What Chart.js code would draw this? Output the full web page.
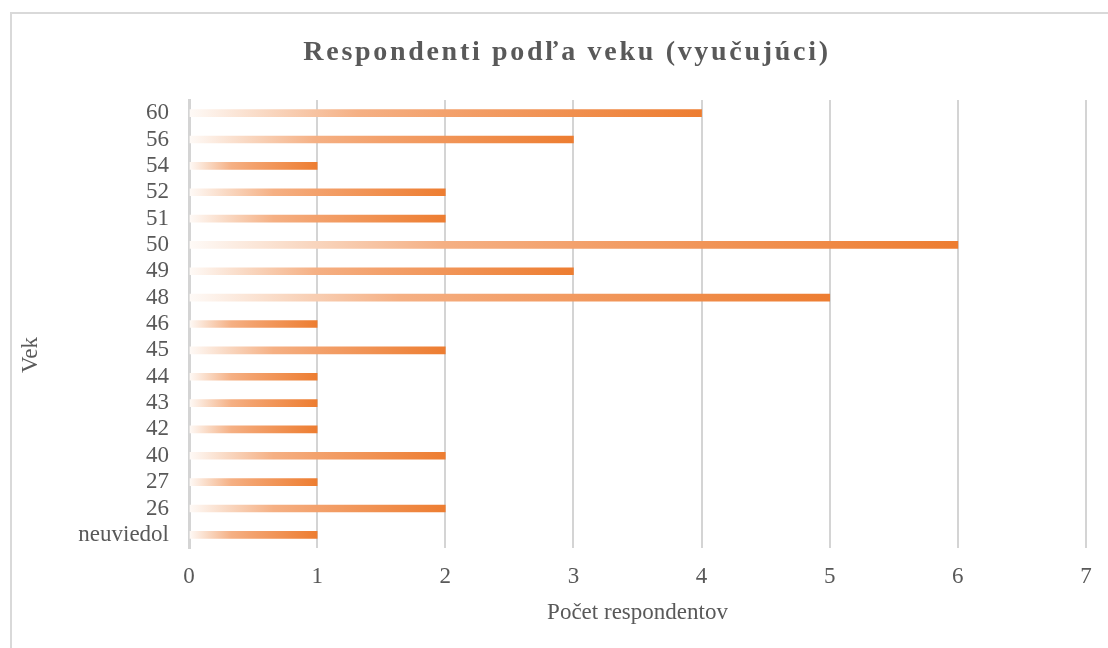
<!DOCTYPE html>
<html lang="sk">
<head>
  <meta charset="UTF-8" />
  <title>Respondenti podľa veku (vyučujúci)</title>
  <script src="https://cdn.jsdelivr.net/npm/chart.js"></script>
  <style>
    html, body { margin: 0; padding: 0; background: #fff; overflow: hidden; }
    canvas { display: block; }
  </style>
</head>
<body>
  <canvas id="ageChart" width="1108" height="648"></canvas>

  <script>
    const chartTitle = 'Respondenti podľa veku (vyučujúci)';
    const yAxisTitle = 'Vek';
    const xAxisTitle = 'Počet respondentov';
    const ageLabels = ['60', '56', '54', '52', '51', '50', '49', '48', '46', '45', '44', '43', '42', '40', '27', '26', 'neuviedol'];
    const respondentCounts = [4, 3, 1, 2, 2, 6, 3, 5, 1, 2, 1, 1, 1, 2, 1, 2, 1];
    const xTicks = [0, 1, 2, 3, 4, 5, 6, 7];

    const TEXT = '#595959';
    const GRID = '#d4d4d4';
    const SERIF = "'Liberation Serif', 'Times New Roman', serif";

    // frame, spaced title and the "Vek" axis title (Excel puts it off-centre)
    const decor = {
      id: 'decor',
      beforeDraw(chart) {
        const ctx = chart.ctx;
        ctx.save();
        ctx.fillStyle = '#fff';
        ctx.fillRect(0, 0, chart.width, chart.height);
        ctx.strokeStyle = '#d9d9d9';
        ctx.lineWidth = 2;
        ctx.strokeRect(11, 13, 1300, 800);
        ctx.restore();
      },
      afterDraw(chart) {
        const ctx = chart.ctx;
        ctx.save();
        ctx.font = 'bold 28px ' + SERIF;
        ctx.letterSpacing = '2.7px';
        ctx.fillStyle = TEXT;
        ctx.textAlign = 'center';
        ctx.textBaseline = 'middle';
        ctx.fillText(chartTitle, 567, 53);
        ctx.restore();

        ctx.save();
        ctx.font = '23px ' + SERIF;
        ctx.fillStyle = TEXT;
        ctx.textAlign = 'center';
        ctx.textBaseline = 'middle';
        ctx.translate(31, 355);
        ctx.rotate(-Math.PI / 2);
        ctx.fillText(yAxisTitle, 0, 0);
        ctx.restore();
      }
    };

    function barFill(c) {
      const chart = c.chart;
      if (!chart.chartArea || c.type !== 'data') return '#ed7d31';
      const xs = chart.scales.x;
      const x0 = xs.getPixelForValue(0);
      const x1 = xs.getPixelForValue(c.parsed.x);
      const g = chart.ctx.createLinearGradient(x0, 0, x1, 0);
      g.addColorStop(0, '#fefaf7');
      g.addColorStop(0.15, '#f9d8c2');
      g.addColorStop(0.33, '#f5b084');
      g.addColorStop(0.5, '#f3a16c');
      g.addColorStop(1, '#ed7d31');
      return g;
    }

    new Chart(document.getElementById('ageChart'), {
      type: 'bar',
      data: {
        labels: ageLabels,
        datasets: [{
          label: xAxisTitle,
          data: respondentCounts,
          backgroundColor: barFill,
          barThickness: 7,
          borderWidth: 0
        }]
      },
      options: {
        indexAxis: 'y',
        responsive: false,
        animation: false,
        layout: { padding: { left: 0, right: 22, top: 100, bottom: 0 } },
        plugins: {
          legend: { display: false },
          title: { display: false },
          tooltip: { enabled: false }
        },
        scales: {
          x: {
            min: 0,
            max: 7,
            afterBuildTicks: (s) => { s.ticks = xTicks.map(v => ({ value: v })); },
            afterFit: (s) => { s.height = 100; },
            grid: { color: GRID, lineWidth: 2, drawTicks: false },
            border: { display: false },
            ticks: { color: TEXT, font: { family: SERIF, size: 23 }, padding: 15 },
            title: {
              display: true,
              text: xAxisTitle,
              color: TEXT,
              font: { family: SERIF, size: 23 },
              padding: { top: 0, bottom: 21 }
            }
          },
          y: {
            afterFit: (s) => { s.width = 189; },
            grid: { display: false, drawTicks: false },
            border: { display: true, color: GRID, width: 3 },
            ticks: { color: TEXT, font: { family: SERIF, size: 23 }, padding: 20, autoSkip: false }
          }
        }
      },
      plugins: [decor]
    });
  </script>
</body>
</html>
